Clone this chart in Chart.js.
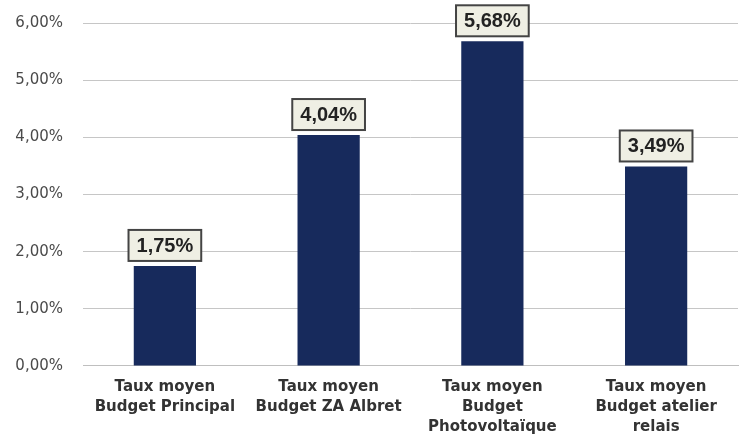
<!DOCTYPE html>
<html>
<head>
<meta charset="utf-8">
<script src="https://cdn.jsdelivr.net/npm/chart.js@4/dist/chart.umd.min.js"></script>
<style>
  body { margin: 0; background: #fff; }
  #wrap { width: 740px; height: 443px; }
</style>
</head>
<body>
<div id="wrap"><canvas id="canvas"></canvas></div>
<script>
var categories = [
    ['Taux moyen', 'Budget Principal'],
    ['Taux moyen', 'Budget ZA Albret'],
    ['Taux moyen', 'Budget', 'Photovoltaïque'],
    ['Taux moyen', 'Budget atelier', 'relais']
];
var rates = [1.75, 4.04, 5.68, 3.49];
var yTicks = [0, 1, 2, 3, 4, 5, 6];

function fmt(v) {
    return v.toFixed(2).replace('.', ',') + '%';
}

// boxed value labels above each bar
var boxLabels = {
    id: 'boxLabels',
    afterDatasetsDraw: function(chart) {
        var ctx = chart.ctx;
        var meta = chart.getDatasetMeta(0);
        ctx.save();
        ctx.font = 'bold 20px "Liberation Sans", Arial, sans-serif';
        ctx.textAlign = 'center';
        ctx.textBaseline = 'middle';
        meta.data.forEach(function(bar, i) {
            var txt = fmt(rates[i]);
            var w = ctx.measureText(txt).width + 16;
            var h = 31;
            var x = bar.x - w / 2;
            var y = bar.y - 5 - h;
            ctx.fillStyle = '#efefe4';
            ctx.fillRect(x, y, w, h);
            ctx.strokeStyle = '#444';
            ctx.lineWidth = 2;
            ctx.strokeRect(x, y, w, h);
            ctx.fillStyle = '#222';
            ctx.fillText(txt, bar.x, y + h / 2 + 1);
        });
        ctx.restore();
    }
};

var ctx = document.getElementById('canvas').getContext('2d');
var myChart = new Chart(ctx, {
    type: 'bar',
    data: {
        labels: categories,
        datasets: [{
            data: rates,
            backgroundColor: '#172a5c',
            borderWidth: 0,
            categoryPercentage: 1,
            barPercentage: 0.38
        }]
    },
    options: {
        responsive: true,
        maintainAspectRatio: false,
        animation: false,
        layout: { padding: { top: 23, right: 2, bottom: 3, left: 4 } },
        plugins: {
            legend: { display: false },
            tooltip: { enabled: false }
        },
        scales: {
            x: {
                grid: { display: false },
                border: { color: '#bfbfbf' },
                ticks: {
                    color: '#333',
                    font: { family: '"DejaVu Sans", sans-serif', size: 15, weight: 'bold', lineHeight: 1.334 },
                    maxRotation: 0,
                    padding: 3
                }
            },
            y: {
                min: 0,
                max: 6,
                afterBuildTicks: function(axis) {
                    axis.ticks = yTicks.map(function(v) { return { value: v }; });
                },
                afterFit: function(axis) {
                    axis.width = 79;
                    axis.paddingTop = 0;
                },
                grid: { color: '#c6c6c6', drawTicks: false },
                border: { display: false },
                ticks: {
                    color: '#4a4a4a',
                    padding: 20,
                    font: { family: '"DejaVu Sans", sans-serif', size: 15 },
                    callback: function(v) { return fmt(v); }
                }
            }
        }
    },
    plugins: [boxLabels]
});
</script>
</body>
</html>
